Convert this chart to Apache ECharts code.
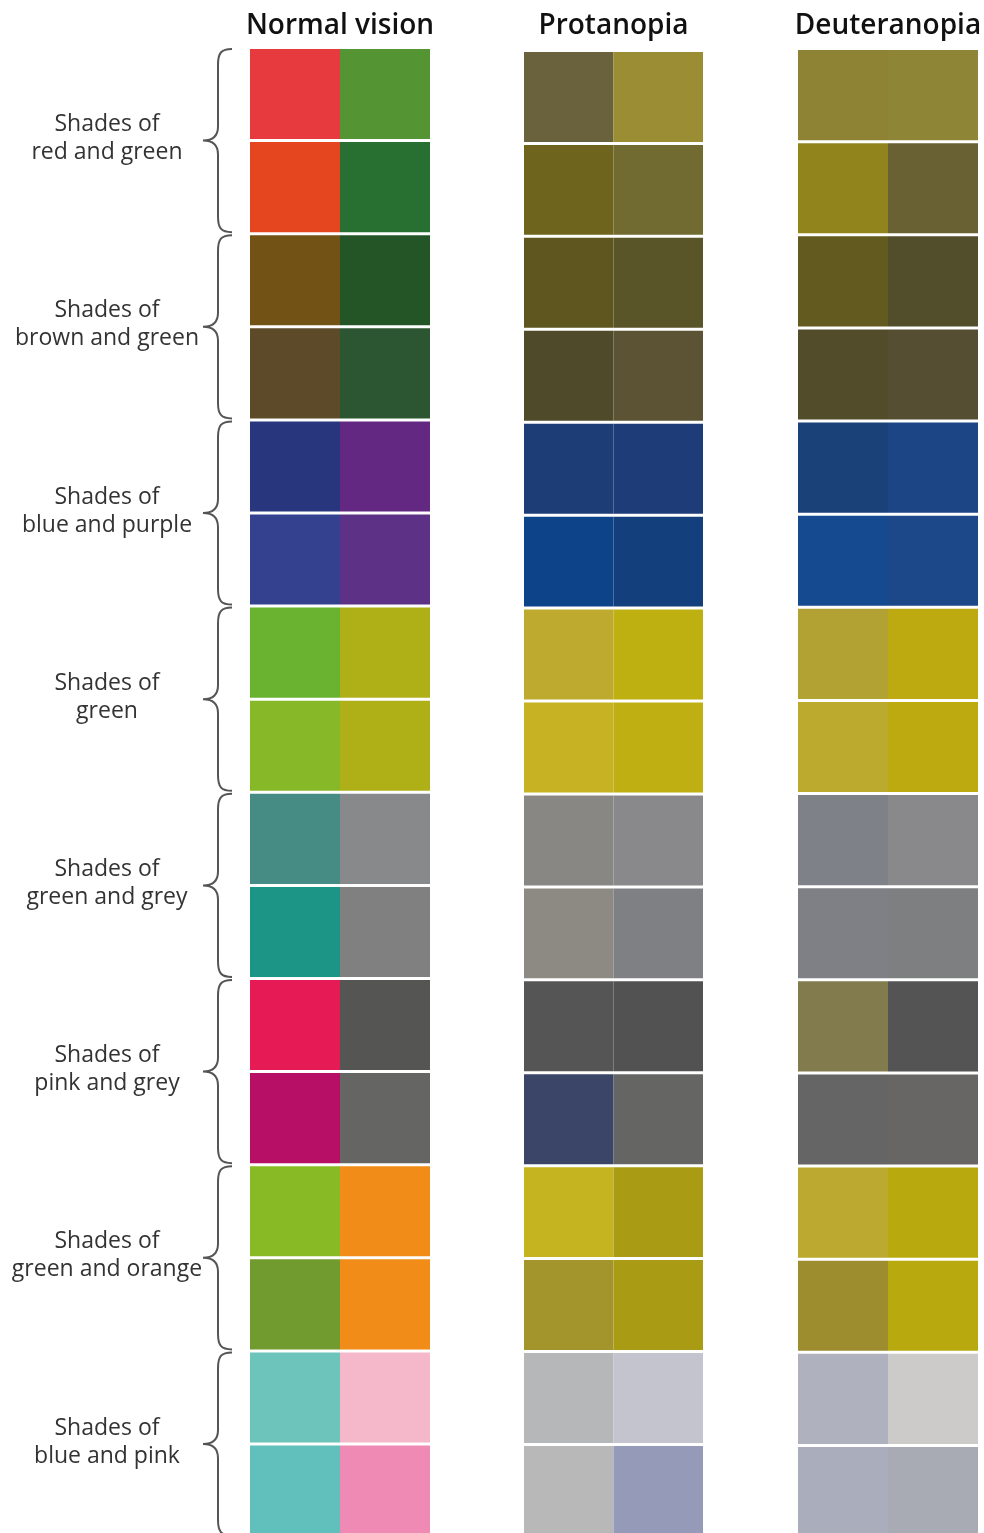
<!DOCTYPE html>
<html>
<head>
<meta charset="utf-8">
<script src="https://cdn.jsdelivr.net/npm/echarts@6/dist/echarts.min.js"></script>
<style>
  html, body { margin: 0; padding: 0; background: #ffffff; }
  #chart { width: 984px; height: 1533px; }
</style>
</head>
<body>
<div id="chart"></div>
<script>
// ---- Data ----
const panelTitles = ['Normal vision', 'Protanopia', 'Deuteranopia'];
const groupLabels = [
  'Shades of\nred and green',
  'Shades of\nbrown and green',
  'Shades of\nblue and purple',
  'Shades of\ngreen',
  'Shades of\ngreen and grey',
  'Shades of\npink and grey',
  'Shades of\ngreen and orange',
  'Shades of\nblue and pink'
];
const rowNames = ['1','2','3','4','5','6','7','8','9','10','11','12','13','14','15','16'];
const columnNames = ['A', 'B'];

const normalColors = [
  ['#E63A3F', '#559433'], ['#E54620', '#286F32'],
  ['#725215', '#235527'], ['#5C4A29', '#2C5631'],
  ['#27367D', '#622882'], ['#34418E', '#5C3186'],
  ['#69B330', '#AFAF18'], ['#87B828', '#AFAF18'],
  ['#478C84', '#88898B'], ['#1C9586', '#7F807F'],
  ['#E61B56', '#555554'], ['#B80F66', '#656564'],
  ['#88BA25', '#F08C17'], ['#719B2F', '#F08C17'],
  ['#6DC4BB', '#F5B8CA'], ['#61C0BB', '#EE8AB4']
];
const protanopiaColors = [
  ['#6A623D', '#9A8D34'], ['#6F641E', '#716A31'],
  ['#5E561E', '#5A5429'], ['#4F4A2A', '#5B5333'],
  ['#1C3D76', '#1E3C77'], ['#0D4489', '#13407C'],
  ['#BDAA2E', '#BFB012'], ['#C6B222', '#BFAF12'],
  ['#898784', '#89898B'], ['#8D8A84', '#7F8083'],
  ['#555555', '#525252'], ['#3A4568', '#656564'],
  ['#C6B320', '#A99C14'], ['#A3952C', '#A99C14'],
  ['#B6B7B9', '#C3C4CE'], ['#B8B8B8', '#949AB8']
];
const deuteranopiaColors = [
  ['#8E8334', '#8E8537'], ['#91841C', '#696034'],
  ['#625A1E', '#524E2C'], ['#524C2A', '#554E33'],
  ['#1A4178', '#1C4586'], ['#154A90', '#1C4889'],
  ['#B2A234', '#BCAA10'], ['#BBAA2E', '#BCAA10'],
  ['#7F8189', '#89898B'], ['#7E8086', '#7E7F80'],
  ['#827B4D', '#545454'], ['#646564', '#686664'],
  ['#BBAA2F', '#B8AA0E'], ['#9D8D2E', '#B8AA0E'],
  ['#AFB2BE', '#CCCBCA'], ['#AAADBB', '#A9ABB4']
];

// ---- Build options ----
const panelColors = [normalColors, protanopiaColors, deuteranopiaColors];
const panelGrids = [
  { left: 250, width: 180, top: 47.5, height: 1489.6 },
  { left: 524, width: 179, top: 50.5, height: 1486.9 },
  { left: 798, width: 180, top: 48.5, height: 1490.0 }
];
const titleBaseline = 40;
const FONT = '"Open Sans", "Noto Sans", sans-serif';

const grids = [];
const xAxes = [];
const yAxes = [];
const series = [];

function swatchRender(params, api) {
  const c = api.coord([api.value(0), api.value(1)]);
  const s = api.size([1, 1]);
  return {
    type: 'rect',
    shape: { x: c[0] - s[0] / 2, y: c[1] - s[1] / 2 + 1.5, width: s[0], height: s[1] - 3 },
    style: { fill: api.visual('color') }
  };
}

panelColors.forEach((colors, p) => {
  grids.push(Object.assign({ containLabel: false, outerBoundsMode: 'none' }, panelGrids[p]));
  xAxes.push({
    type: 'category', gridIndex: p, data: columnNames, position: 'top',
    name: panelTitles[p], nameLocation: 'middle', nameGap: panelGrids[p].top - titleBaseline,
    nameTextStyle: { fontSize: 28, fontWeight: 600, color: '#111', fontFamily: FONT },
    axisLine: { show: false }, axisTick: { show: false }, axisLabel: { show: false },
    splitLine: { show: false }
  });
  yAxes.push({
    type: 'category', gridIndex: p, data: rowNames, inverse: true,
    axisLine: { show: false }, axisTick: { show: false }, axisLabel: { show: false },
    splitLine: { show: false }
  });
  const data = [];
  colors.forEach((pair, r) => {
    pair.forEach((col, c) => {
      data.push({ value: [c, r], itemStyle: { color: col } });
    });
  });
  series.push({
    type: 'custom', xAxisIndex: p, yAxisIndex: p, renderItem: swatchRender,
    data: data, silent: true, animation: false
  });
});

// Label + brace grid (8 groups)
grids.push({ left: 0, width: 240, top: 47.5, height: 1489.6, outerBoundsMode: 'none', containLabel: false });
xAxes.push({ type: 'value', gridIndex: 3, min: 0, max: 240, show: false });
yAxes.push({ type: 'category', gridIndex: 3, data: groupLabels, inverse: true, show: false });
series.push({
  type: 'custom', xAxisIndex: 3, yAxisIndex: 3, silent: true, animation: false,
  data: groupLabels.map((g, i) => [0, i]),
  renderItem: function (params, api) {
    const i = api.value(1);
    const mid = api.coord([0, i])[1];
    const h = api.size([0, 1])[1];
    const top = mid - h / 2 + 1.5;
    const bot = mid + h / 2 - 1.5;
    const xt = api.coord([203, i])[0];
    const xs = api.coord([218, i])[0];
    const xe = api.coord([232, i])[0];
    const xl = api.coord([107, i])[0];
    const d =
      'M' + xe + ' ' + top +
      ' C' + (xs + 3) + ' ' + top + ' ' + xs + ' ' + (top + 4) + ' ' + xs + ' ' + (top + 16) +
      ' L' + xs + ' ' + (mid - 14) +
      ' C' + xs + ' ' + (mid - 4) + ' ' + (xs - 6) + ' ' + mid + ' ' + xt + ' ' + mid +
      ' C' + (xs - 6) + ' ' + mid + ' ' + xs + ' ' + (mid + 4) + ' ' + xs + ' ' + (mid + 14) +
      ' L' + xs + ' ' + (bot - 16) +
      ' C' + xs + ' ' + (bot - 4) + ' ' + (xs + 3) + ' ' + bot + ' ' + xe + ' ' + bot;
    return {
      type: 'group',
      children: [
        {
          type: 'path',
          shape: { pathData: d },
          style: { fill: null, stroke: '#555555', lineWidth: 2 }
        },
        {
          type: 'text',
          style: {
            text: groupLabels[i], x: xl, y: mid - 2,
            align: 'center', verticalAlign: 'middle',
            fontSize: 23, lineHeight: 28, fontFamily: FONT, fill: '#333333'
          }
        }
      ]
    };
  }
});

const chart = echarts.init(document.getElementById('chart'), null, { renderer: 'canvas' });
chart.setOption({
  backgroundColor: '#ffffff',
  animation: false,
  grid: grids,
  xAxis: xAxes,
  yAxis: yAxes,
  series: series
});
</script>
</body>
</html>
